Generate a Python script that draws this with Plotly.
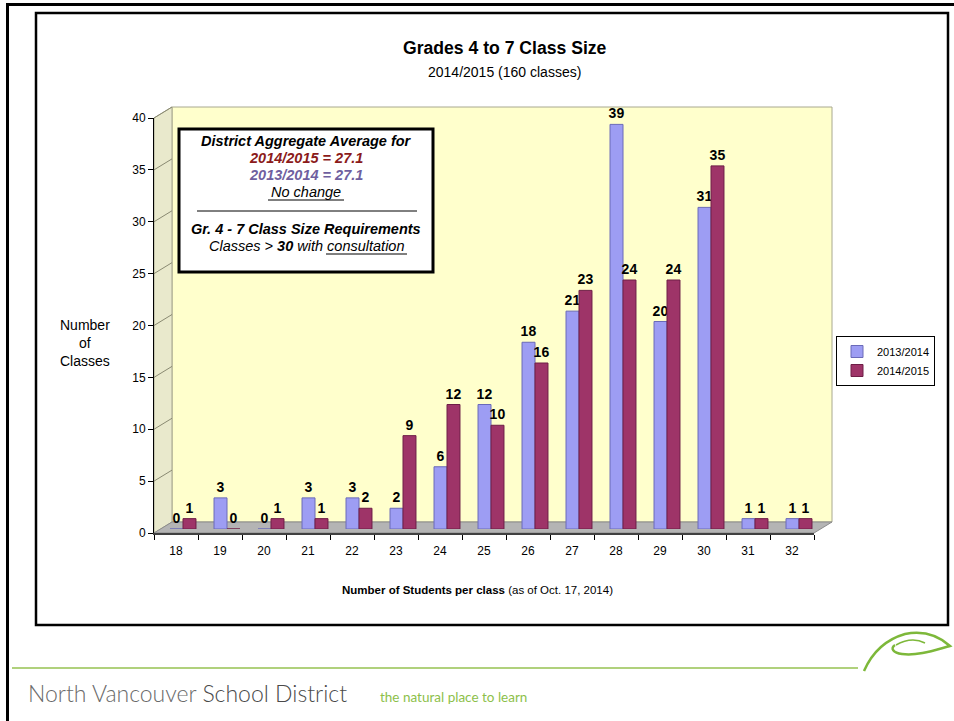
import plotly.graph_objects as go

# ---------------- data ----------------
class_sizes = ['18', '19', '20', '21', '22', '23', '24', '25', '26', '27', '28', '29', '30', '31', '32']
classes_2013_2014 = [0, 3, 0, 3, 3, 2, 6, 12, 18, 21, 39, 20, 31, 1, 1]
classes_2014_2015 = [1, 0, 1, 1, 2, 9, 12, 10, 16, 23, 24, 24, 35, 1, 1]
y_ticks = [0, 5, 10, 15, 20, 25, 30, 35, 40]
series_names = ['2013/2014', '2014/2015']

W, H = 954, 721


def X(px):
    return px / W


def Y(py):
    return 1 - py / H


def P(px, py):
    return f"{X(px):.5f},{Y(py):.5f}"


# pixel geometry of the 3-D box
FX0, FX1, FY0, FY1 = 154, 814, 533, 118      # front plane
DX, DY = 18, -11                              # depth offset to back wall
BX0, BX1, BY0, BY1 = FX0 + DX, FX1 + DX, FY0 + DY, FY1 + DY
MX, MY = 7, -4                                # bars plane offset
YMAX = 40


def yf(v):
    return FY0 - (FY0 - FY1) * v / YMAX


def yb(v):
    return BY0 - (BY0 - BY1) * v / YMAX


BLUE = '#9d9df3'
RED = '#9e3468'
GRID = '#8a8a72'
FONT = 'Liberation Sans, Arial, sans-serif'

fig = go.Figure()

# anchor trace for the front (tick) axes
fig.add_trace(go.Scatter(x=class_sizes, y=[None] * len(class_sizes), xaxis='x2', yaxis='y2',
                         mode='markers', showlegend=False, hoverinfo='skip'))

fig.add_trace(go.Bar(
    x=class_sizes, y=classes_2013_2014, name=series_names[0],
    marker=dict(color=BLUE, line=dict(color='#6a6ab8', width=1)),
    texttemplate='<b>%{y}</b>', textposition='outside', constraintext='none',
    textfont=dict(size=14, color='black', family=FONT),
    cliponaxis=False, xaxis='x3', yaxis='y3'))
fig.add_trace(go.Bar(
    x=class_sizes, y=classes_2014_2015, name=series_names[1],
    marker=dict(color=RED, line=dict(color='#6e1e46', width=1)),
    texttemplate='<b>%{y}</b>', textposition='outside', constraintext='none',
    textfont=dict(size=14, color='black', family=FONT),
    cliponaxis=False, xaxis='x3', yaxis='y3'))

shapes = []
# slide border + chart frame
shapes.append(dict(type='line', xref='paper', yref='paper', x0=X(6), x1=X(954), y0=Y(4.5), y1=Y(4.5),
                   line=dict(color='black', width=3)))
shapes.append(dict(type='line', xref='paper', yref='paper', x0=X(7.5), x1=X(7.5), y0=Y(3), y1=Y(721),
                   line=dict(color='black', width=3)))
shapes.append(dict(type='rect', xref='paper', yref='paper', x0=X(36), x1=X(948), y0=Y(13), y1=Y(625),
                   line=dict(color='black', width=2.5), fillcolor='white', layer='below'))
# back wall
shapes.append(dict(type='rect', xref='paper', yref='paper', x0=X(BX0), x1=X(BX1), y0=Y(BY0), y1=Y(BY1),
                   fillcolor='#ffffcc', line=dict(color='#a8a890', width=1), layer='below'))
# left wall
shapes.append(dict(type='path', xref='paper', yref='paper',
                   path=f"M{P(FX0, FY1)} L{P(BX0, BY1)} L{P(BX0, BY0)} L{P(FX0, FY0)} Z",
                   fillcolor='#e9e9cc', line=dict(color='#a8a890', width=1), layer='below'))
for v in y_ticks[1:]:
    shapes.append(dict(type='line', xref='paper', yref='paper', x0=X(FX0), y0=Y(yf(v)), x1=X(BX0), y1=Y(yb(v)),
                       line=dict(color=GRID, width=1), layer='below'))
# floor
shapes.append(dict(type='path', xref='paper', yref='paper',
                   path=f"M{P(FX0, FY0)} L{P(FX1, FY0)} L{P(BX1, BY0)} L{P(BX0, BY0)} Z",
                   fillcolor='#b4b4b4', line=dict(color='#8c8c8c', width=1), layer='below'))
# footer line
shapes.append(dict(type='line', xref='paper', yref='paper', x0=X(12), x1=X(858), y0=Y(668), y1=Y(668),
                   line=dict(color='#96c250', width=1.5)))
# leaf logo
leaf = (f"M{P(864, 671)} C{P(871, 655)} {P(884, 640)} {P(905, 634)} "
        f"C{P(925, 630)} {P(940, 637)} {P(950, 646)} "
        f"C{P(935, 650)} {P(918, 656)} {P(902, 654)} "
        f"C{P(893, 653)} {P(890, 648)} {P(895, 645)}")
shapes.append(dict(type='path', xref='paper', yref='paper', path=leaf,
                   line=dict(color='#7db83a', width=2.5)))
shapes.append(dict(type='path', xref='paper', yref='paper',
                   path=f"M{P(896, 645)} C{P(905, 640)} {P(915, 638)} {P(925, 643)}",
                   line=dict(color='#7db83a', width=1.5)))
# info box
shapes.append(dict(type='rect', xref='paper', yref='paper', x0=X(179), x1=X(433), y0=Y(129), y1=Y(272),
                   fillcolor='white', line=dict(color='black', width=3)))
shapes.append(dict(type='line', xref='paper', yref='paper', x0=X(197), x1=X(417), y0=Y(211), y1=Y(211),
                   line=dict(color='black', width=1)))
# underlines in info box
shapes.append(dict(type='line', xref='paper', yref='paper', x0=X(268), x1=X(344), y0=Y(200), y1=Y(200),
                   line=dict(color='black', width=1)))
shapes.append(dict(type='line', xref='paper', yref='paper', x0=X(326), x1=X(407), y0=Y(254), y1=Y(254),
                   line=dict(color='black', width=1)))

annotations = []


def ann(text, px, py, size=13, color='black', xanchor='center', family=FONT):
    annotations.append(dict(text=text, x=X(px), y=Y(py), xref='paper', yref='paper', showarrow=False,
                            xanchor=xanchor, yanchor='middle', font=dict(size=size, color=color, family=family)))


ann('<b>Grades 4 to 7 Class Size</b>', 505, 48, size=17.6)
ann('2014/2015 (160 classes)', 505, 72, size=14)
ann('Number<br>of<br>Classes', 85, 343, size=14)
ann('<b>Number of Students per class</b> (as of Oct. 17, 2014)', 477, 590, size=11.5)

ann('<b><i>District Aggregate Average for</i></b>', 306, 141, size=14.5)
ann('<b><i>2014/2015 = 27.1</i></b>', 306, 158, size=14.5, color='#8b1a1a')
ann('<b><i>2013/2014 = 27.1</i></b>', 306, 175, size=14.5, color='#6f5f9f')
ann('<i>No change</i>', 306, 192, size=14.5)
ann('<b><i>Gr. 4 - 7 Class Size Requirements</i></b>', 306, 229, size=14.5)
ann('<i>Classes &gt; <b>30</b> with consultation</i>', 306, 246, size=14.5)

annotations.append(dict(text='North Vancouver <span style="color:#4a4a4a">School District</span>',
                        x=X(26), y=Y(693), xref='paper', yref='paper', showarrow=False,
                        xanchor='left', yanchor='middle',
                        font=dict(size=23, color='#6a6a6a', family='Lato, Open Sans, sans-serif', weight=300)))
ann('the natural place to learn', 378, 697, size=13.5, color='#8dbf4a', xanchor='left',
    family='Lato, Open Sans, sans-serif')

fig.update_layout(
    width=W, height=H,
    margin=dict(l=0, r=0, t=0, b=0, pad=0, autoexpand=False),
    paper_bgcolor='white', plot_bgcolor='rgba(0,0,0,0)',
    barmode='group', bargap=0.41, bargroupgap=0.0,
    font=dict(family=FONT, size=12, color='black'),
    showlegend=True,
    legend=dict(x=X(836), y=Y(336), xanchor='left', yanchor='top', bgcolor='white',
                bordercolor='black', borderwidth=1, font=dict(size=11, family=FONT),
                itemwidth=30, tracegroupgap=2),
    # back wall axes (gridlines)
    xaxis=dict(domain=[X(BX0), X(BX1)], range=[0, 1], visible=False, anchor='y'),
    yaxis=dict(domain=[Y(BY0), Y(BY1)], range=[0, YMAX], tickvals=y_ticks, showgrid=True,
               gridcolor=GRID, gridwidth=1, showticklabels=False, zeroline=False, showline=False,
               ticks='', anchor='x', automargin=False),
    # front axes (ticks and labels)
    xaxis2=dict(domain=[X(FX0), X(FX1)], type='category', categoryarray=class_sizes,
                range=[-0.5, len(class_sizes) - 0.5], tickson='boundaries',
                ticks='outside', ticklen=5, tickcolor='black',
                showline=True, linecolor='#404040', linewidth=1.5, showgrid=False,
                zeroline=False, anchor='y2', tickfont=dict(size=12), ticklabelstandoff=6,
                automargin=False),
    yaxis2=dict(domain=[Y(FY0), Y(FY1)], range=[0, YMAX], tickvals=y_ticks, ticks='outside',
                ticklen=5, tickcolor='black', showline=True, linecolor='black', linewidth=1,
                showgrid=False, zeroline=False, anchor='x2', tickfont=dict(size=12), automargin=False),
    # bar plane
    xaxis3=dict(domain=[X(FX0 + MX), X(FX1 + MX)], type='category', categoryarray=class_sizes,
                range=[-0.5, len(class_sizes) - 0.5], visible=False, anchor='y3'),
    yaxis3=dict(domain=[Y(FY0 + MY), Y(FY1 + MY)], range=[0, YMAX], visible=False, anchor='x3'),
    shapes=shapes,
    annotations=annotations,
)

fig.write_html("out.html", config={'displayModeBar': False},
               post_script="document.body.style.margin='0';")
